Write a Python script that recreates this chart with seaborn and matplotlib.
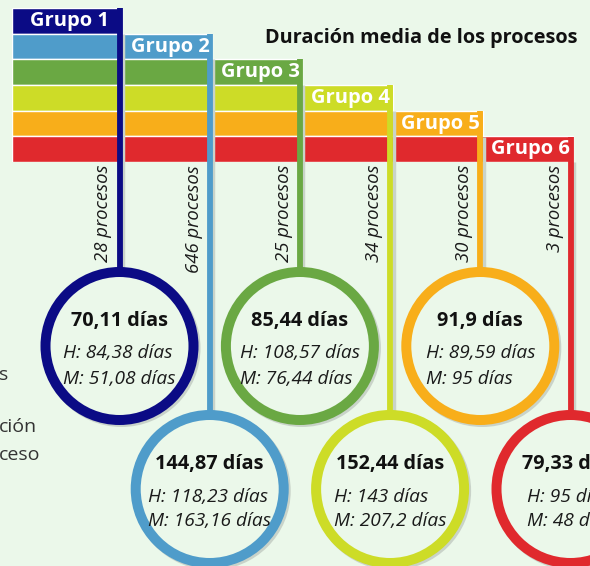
import pandas as pd
import seaborn as sns
import matplotlib.pyplot as plt
from matplotlib.patches import Circle

# Datos de la infografía
grupos = ['Grupo 1', 'Grupo 2', 'Grupo 3', 'Grupo 4', 'Grupo 5', 'Grupo 6']
procesos = [28, 646, 25, 34, 30, 3]
media_dias = [70.11, 144.87, 85.44, 152.44, 91.9, 79.33]
hombres_dias = [84.38, 118.23, 108.57, 143, 89.59, 95]
mujeres_dias = [51.08, 163.16, 76.44, 207.2, 95, 48]
colores = ['#0b0b85', '#4f9cca', '#6aa843', '#cddc27', '#f8ae1a', '#e0292d']

titulo = 'Duración media de los procesos'
fragmentos = ['s', 'ción', 'ceso']  # texto cortado en el borde izquierdo

fondo = '#ebf8ea'
sombra = '#c9d3c9'


def dias(v):
    # formato con coma decimal
    return f'{v:g}'.replace('.', ',')


sns.set_theme(style='white')
plt.rcParams['font.family'] = ['Open Sans', 'DejaVu Sans']

W, H = 590, 566
fig = plt.figure(figsize=(W / 100, H / 100), dpi=100, facecolor=fondo)

# Franjas horizontales, una por grupo
x0, y0, fila = 12, 8, 25.7
derecha = [122 + 90.2 * i for i in range(len(grupos))]
ax_f = fig.add_axes([x0 / W, 1 - (y0 + 6 * fila) / H, (W - x0) / W, 6 * fila / H])
df = pd.DataFrame({'Grupo': grupos, 'ancho': [d - x0 for d in derecha]})
sns.barplot(data=df, x='ancho', y='Grupo', hue='Grupo', palette=colores,
            orient='h', width=1.0, saturation=1, legend=False, ax=ax_f)
ax_f.set_xlim(0, W - x0)
ax_f.set_ylim(5.5, -0.5)
ax_f.axis('off')

# Eje principal en coordenadas de píxel
ax = fig.add_axes([0, 0, 1, 1])
ax.set_xlim(0, W)
ax.set_ylim(H, 0)
ax.axis('off')

ax.text(265, 38, titulo, fontsize=14.3, fontweight='bold', color='#111111',
        ha='left', va='center')

for txt, (xf, yf) in zip(fragmentos, [(-1, 375), (-1, 427), (-1, 455)]):
    ax.text(xf, yf, txt, fontsize=14, color='#333333', ha='left', va='center')

radio = 74
for i, g in enumerate(grupos):
    col = colores[i]
    izq = x0 if i == 0 else derecha[i - 1]
    yc_fila = y0 + (i + 0.5) * fila
    # cabecera
    ax.text((izq + derecha[i]) / 2 + 3, yc_fila, g, fontsize=14.5, fontweight='bold',
            color='white', ha='center', va='center', zorder=5)

    cx = derecha[i] - 2.5
    cy = 346 if i % 2 == 0 else 489
    # línea vertical y su sombra
    ax.plot([cx + 3.5, cx + 3.5], [y0 + (i + 1) * fila, cy - radio], color=sombra,
            lw=2.5, zorder=1, solid_capstyle='butt')
    ax.plot([cx, cx], [y0 + i * fila, cy - radio], color=col, lw=4.2, zorder=2,
            solid_capstyle='butt')

    # número de procesos
    ax.text(cx - 7, 165, f'{procesos[i]} procesos', rotation=90, fontsize=13.3,
            fontstyle='italic', color='#1a1a1a', ha='right', va='top')

    # círculo
    ax.add_patch(Circle((cx + 2, cy + 2), radio, fill=False, edgecolor=sombra,
                        lw=7.2, zorder=2.5))
    ax.add_patch(Circle((cx, cy), radio, facecolor=fondo, edgecolor=col,
                        lw=7.2, zorder=3))
    ax.text(cx, cy - 25, f'{dias(media_dias[i])} días', fontsize=14.3,
            fontweight='bold', color='#111111', ha='center', va='center', zorder=4)
    ax.text(cx, cy + 20, f'H: {dias(hombres_dias[i])} días\nM: {dias(mujeres_dias[i])} días',
            fontsize=13.8, fontstyle='italic', color='#1a1a1a', ha='center',
            va='center', multialignment='left', linespacing=1.5, zorder=4)

fig.savefig('out.png', dpi=100, facecolor=fondo)
